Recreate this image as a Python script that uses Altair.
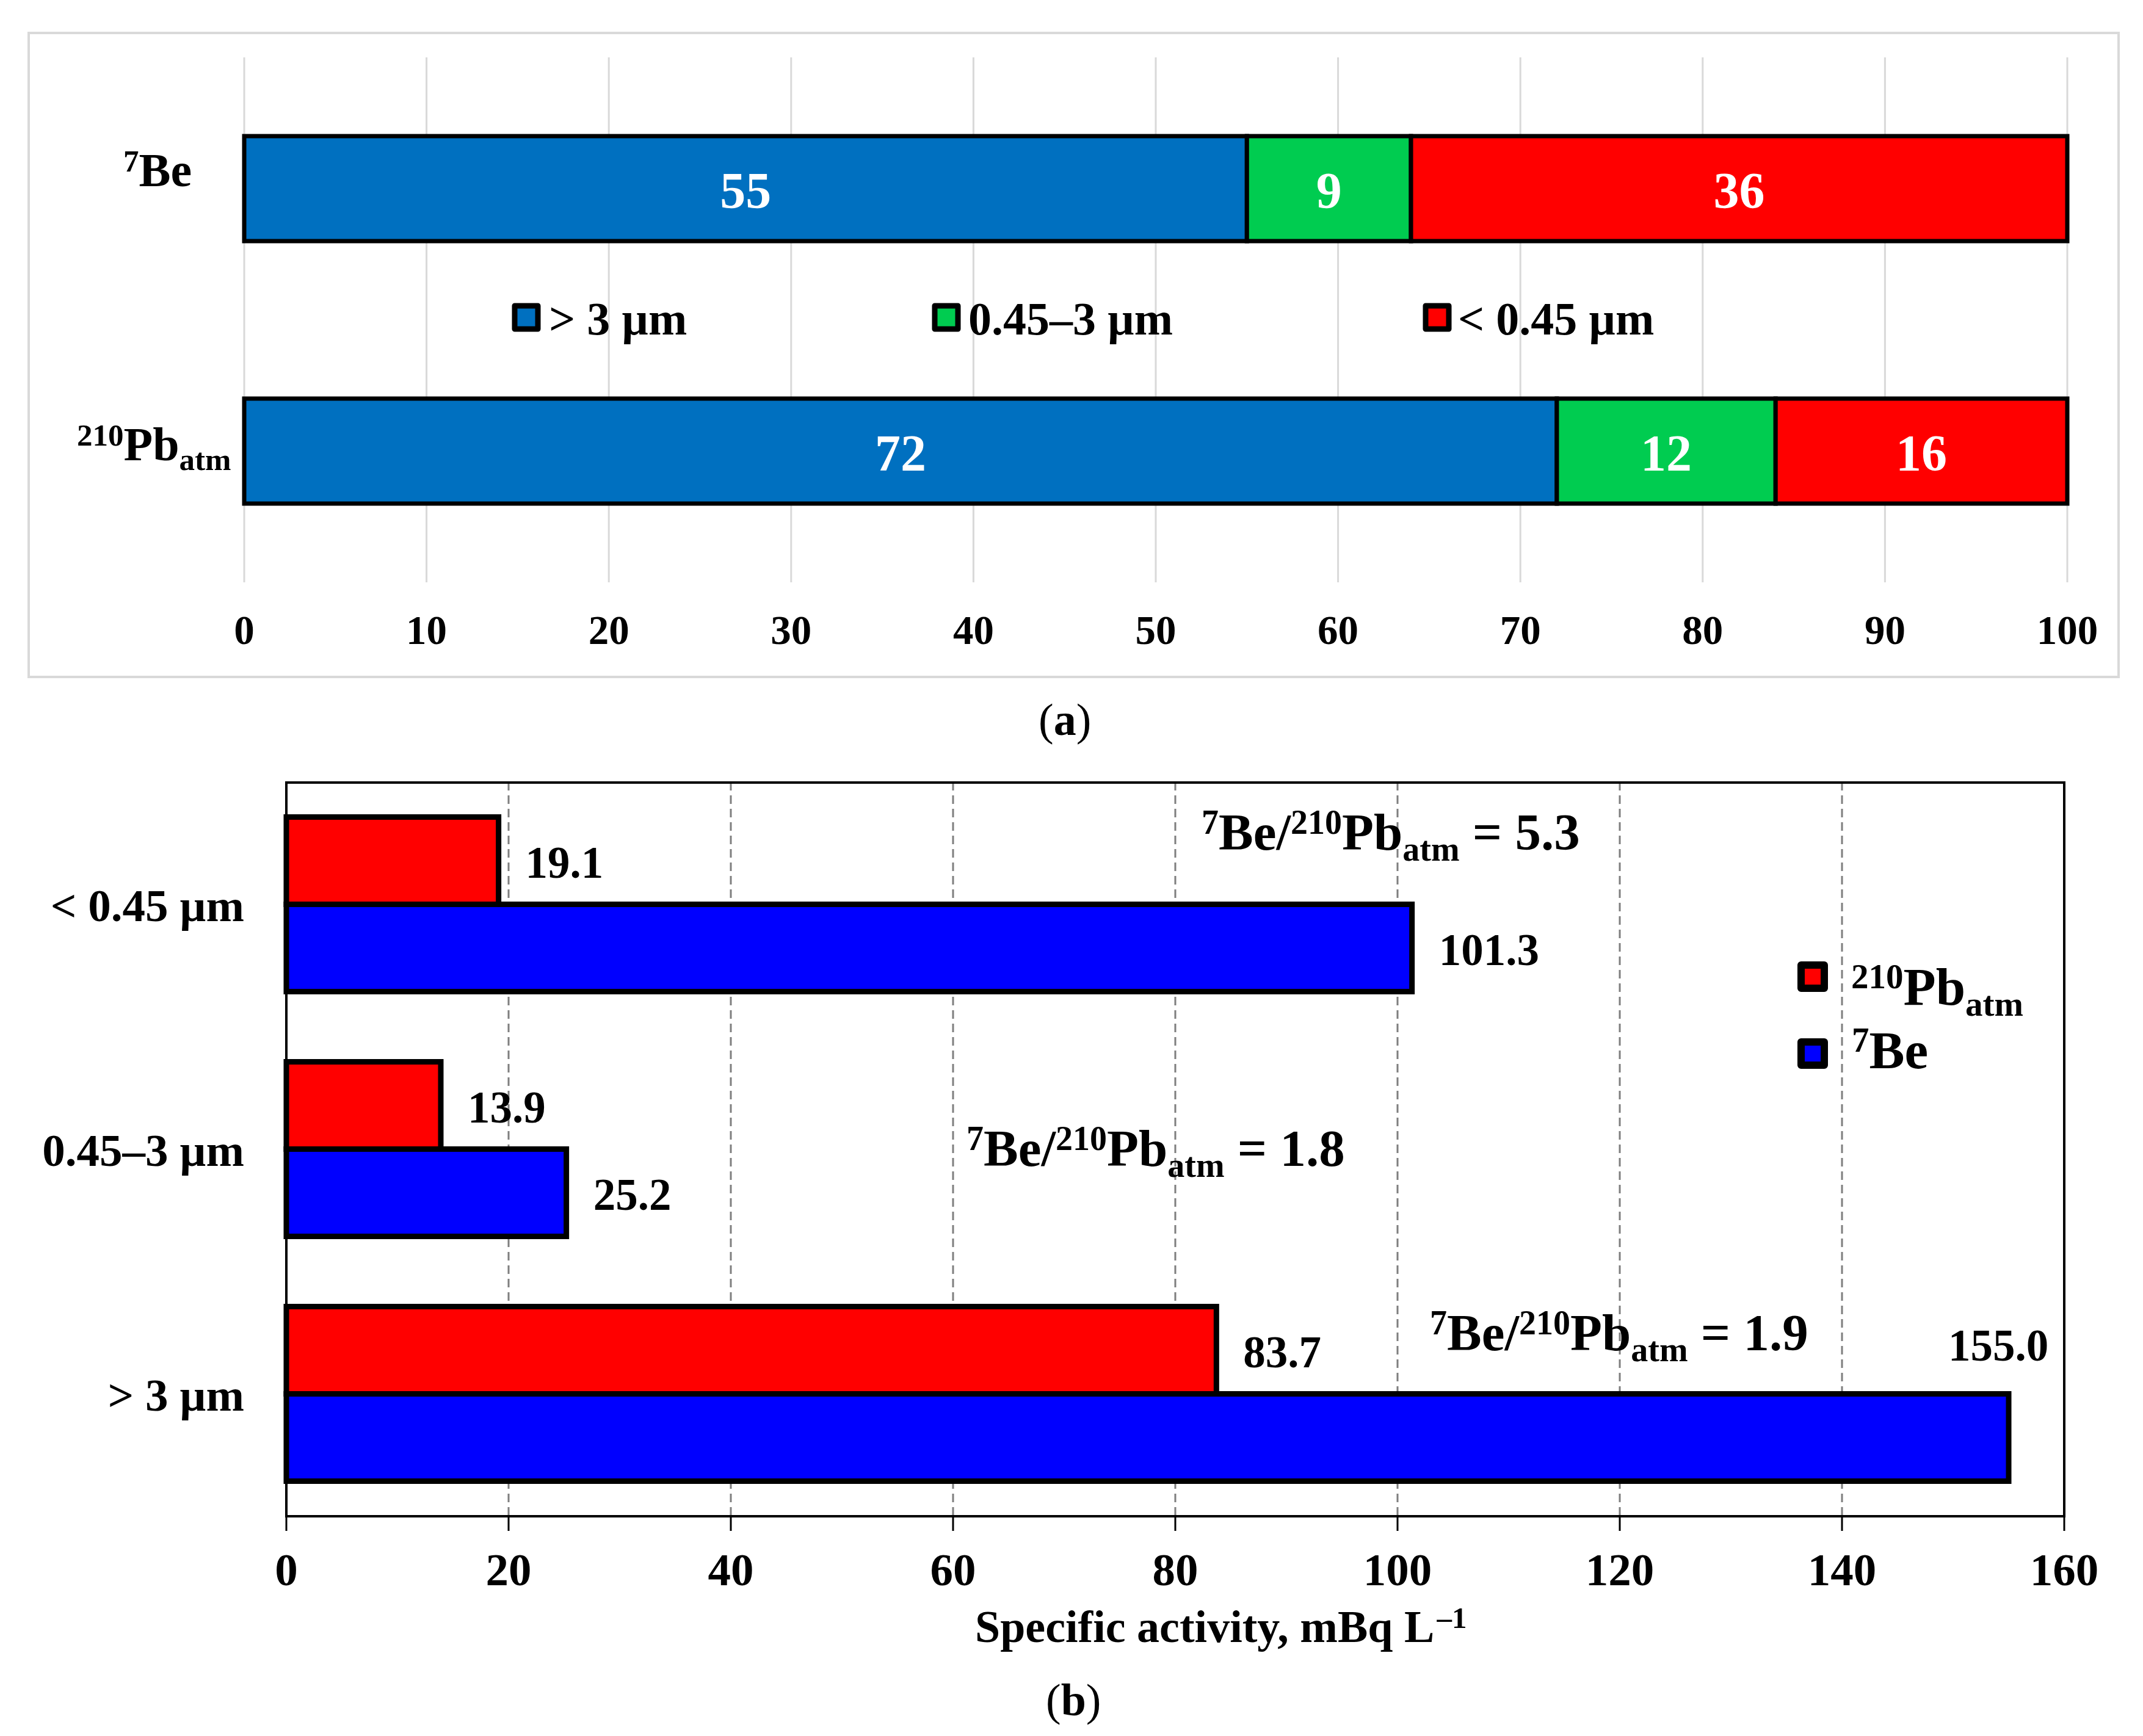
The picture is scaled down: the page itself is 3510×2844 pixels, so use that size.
import altair as alt
import pandas as pd

# ---- data ----
isotopes = ["7Be", "210Pb"]
fractions = ["> 3 µm", "0.45–3 µm", "< 0.45 µm"]
share_be7 = [55, 9, 36]
share_pb210 = [72, 12, 16]
fraction_colors = ["#0070C0", "#00CC50", "#FF0000"]

size_classes = ["< 0.45 µm", "0.45–3 µm", "> 3 µm"]
series = ["210Pb", "7Be"]
series_colors = ["#FF0000", "#0000FF"]
activity_pb210 = [19.1, 13.9, 83.7]
activity_be7 = [101.3, 25.2, 155.0]
ratios = ["5.3", "1.8", "1.9"]

ticks_a = list(range(0, 101, 10))
ticks_b = list(range(0, 161, 20))
grid_b = list(range(20, 141, 20))

FONT = "Liberation Serif"

# Times / Liberation Serif Bold advance widths (1/1000 em)
ADV = {" ": 250, "(": 333, ")": 333, ",": 250, ".": 250, "/": 278, "<": 570,
       "=": 570, ">": 570, "B": 667, "L": 667, "P": 611, "S": 556, "a": 500,
       "b": 556, "c": 444, "e": 444, "f": 333, "i": 278, "m": 833, "p": 556,
       "q": 556, "t": 333, "v": 500, "y": 500, "µ": 556, "–": 500}

one = pd.DataFrame({"k": [0]})


def text_width(s, size):
    return sum(ADV.get(c, 500) for c in s) * size / 1000


def rich(parts, x0, y0, size, color="black"):
    """Text with superscripts/subscripts, left edge x0, baseline y0."""
    small = round(size * 0.66)
    layers = []
    off = 0
    for txt, kind in parts:
        fs = small if kind in ("sup", "sub") else size
        shift = {"sup": -0.31 * size, "sub": 0.21 * size}.get(kind, 0)
        weight = "normal" if kind == "reg" else "bold"
        # svg drops leading blanks, so move the start instead
        lead = len(txt) - len(txt.lstrip(" "))
        off += text_width(" " * lead, fs)
        txt = txt.lstrip(" ")
        layers.append(
            alt.Chart(one)
            .mark_text(text=txt, align="left", baseline="alphabetic", font=FONT,
                       fontSize=fs, fontWeight=weight, color=color)
            .encode(x=alt.value(x0 + off), y=alt.value(y0 + shift))
        )
        off += text_width(txt, fs)
    return layers


# ---------------- panel (a) ----------------
rows = []
for iso, shares in zip(isotopes, [share_be7, share_pb210]):
    start = 0
    for frac, v in zip(fractions, shares):
        rows.append({"iso": iso, "frac": frac, "value": v,
                     "start": start, "end": start + v, "mid": start + v / 2})
        start += v
df_a = pd.DataFrame(rows)

xa = alt.Scale(domain=[0, 100], range=[355, 3341])
ya = alt.Scale(domain=isotopes, range=[41, 901], paddingInner=0.6, paddingOuter=0.3)

frame_a = (
    alt.Chart(one)
    .mark_rect(fillOpacity=0, stroke="#d9d9d9", strokeWidth=4)
    .encode(x=alt.value(2), x2=alt.value(3425), y=alt.value(1), y2=alt.value(1056))
)

grid_a = (
    alt.Chart(pd.DataFrame({"v": ticks_a}))
    .mark_rule(color="#d9d9d9", strokeWidth=3)
    .encode(x=alt.X("v:Q", scale=xa, axis=None), y=alt.value(41), y2=alt.value(901))
)

bars_a = (
    alt.Chart(df_a)
    .mark_bar(stroke="black", strokeWidth=7)
    .encode(
        x=alt.X("start:Q", scale=xa, axis=None),
        x2="end:Q",
        y=alt.Y("iso:N", scale=ya, axis=None),
        color=alt.Color("frac:N", scale=alt.Scale(domain=fractions, range=fraction_colors),
                        legend=None),
    )
)

values_a = (
    alt.Chart(df_a)
    .mark_text(font=FONT, fontWeight="bold", fontSize=84, color="white",
               baseline="alphabetic", dy=32)
    .encode(x=alt.X("mid:Q", scale=xa, axis=None), y=alt.Y("iso:N", scale=ya, axis=None),
            text=alt.Text("value:Q", format="d"))
)

ticklab_a = (
    alt.Chart(pd.DataFrame({"v": ticks_a}))
    .mark_text(font=FONT, fontWeight="bold", fontSize=67, baseline="alphabetic")
    .encode(x=alt.X("v:Q", scale=xa, axis=None), y=alt.value(1002),
            text=alt.Text("v:Q", format="d"))
)

layers_a = [frame_a, grid_a, bars_a, values_a, ticklab_a]

# legend (a)
for frac, col, sx, tx in zip(fractions, fraction_colors, [817, 1505, 2309], [854, 1541, 2343]):
    layers_a.append(
        alt.Chart(one)
        .mark_square(size=1444, fill=col, stroke="black", strokeWidth=9, opacity=1,
                     strokeJoin="round")
        .encode(x=alt.value(sx), y=alt.value(467))
    )
    layers_a.append(
        alt.Chart(one)
        .mark_text(text=frac, font=FONT, fontWeight="bold", fontSize=76,
                   align="left", baseline="alphabetic")
        .encode(x=alt.value(tx), y=alt.value(495))
    )

# y labels (a)
layers_a += rich([("7", "sup"), ("Be", "n")], 157, 252, 78)
layers_a += rich([("210", "sup"), ("Pb", "n"), ("atm", "sub")], 81, 701, 78)
layers_a += rich([("(", "reg"), ("a", "n"), (")", "reg")], 1656, 1151, 74)

panel_a = alt.layer(*layers_a).properties(width=3427, height=1226)

# ---------------- panel (b) ----------------
df_pb = pd.DataFrame({"cls": size_classes, "value": activity_pb210})
df_be = pd.DataFrame({"cls": size_classes, "value": activity_be7})

xb = alt.Scale(domain=[0, 160], range=[424, 3336])
yb = alt.Scale(domain=size_classes, range=[0, 1203], paddingInner=0.287, paddingOuter=0.1435)
BAR_H = 143

gridlines_b = (
    alt.Chart(pd.DataFrame({"v": grid_b}))
    .mark_rule(color="#7f7f7f", strokeWidth=3, strokeDash=[14, 8])
    .encode(x=alt.X("v:Q", scale=xb, axis=None), y=alt.value(0), y2=alt.value(1203))
)


def series_bars(df, color, shift):
    return (
        alt.Chart(df)
        .mark_bar(stroke="black", strokeWidth=9, color=color, height=BAR_H, yOffset=shift)
        .encode(x=alt.X("value:Q", scale=xb, axis=None),
                y=alt.Y("cls:N", scale=yb, axis=None))
    )


def series_labels(df, shift):
    return (
        alt.Chart(df)
        .transform_filter("datum.value < 150")
        .mark_text(font=FONT, fontWeight="bold", fontSize=73, align="left",
                   baseline="alphabetic", dx=44, dy=shift + 28)
        .encode(x=alt.X("value:Q", scale=xb, axis=None),
                y=alt.Y("cls:N", scale=yb, axis=None),
                text=alt.Text("value:Q", format=".1f"))
    )


bars_pb = series_bars(df_pb, series_colors[0], -BAR_H / 2)
bars_be = series_bars(df_be, series_colors[1], BAR_H / 2)

frame_b = (
    alt.Chart(one)
    .mark_rect(fillOpacity=0, stroke="black", strokeWidth=4)
    .encode(x=alt.value(424), x2=alt.value(3336), y=alt.value(1), y2=alt.value(1203))
)

value_top_b = (
    alt.Chart(df_be)
    .transform_filter("datum.value >= 150")
    .mark_text(font=FONT, fontWeight="bold", fontSize=73, align="center",
               baseline="alphabetic", dx=-17, dy=BAR_H / 2 - 126)
    .encode(x=alt.X("value:Q", scale=xb, axis=None),
            y=alt.Y("cls:N", scale=yb, axis=None),
            text=alt.Text("value:Q", format=".1f"))
)

ticks_rule_b = (
    alt.Chart(pd.DataFrame({"v": ticks_b}))
    .mark_rule(color="black", strokeWidth=3)
    .encode(x=alt.X("v:Q", scale=xb, axis=None), y=alt.value(1203), y2=alt.value(1227))
)

ticklab_b = (
    alt.Chart(pd.DataFrame({"v": ticks_b}))
    .mark_text(font=FONT, fontWeight="bold", fontSize=75, baseline="alphabetic")
    .encode(x=alt.X("v:Q", scale=xb, axis=None), y=alt.value(1316),
            text=alt.Text("v:Q", format="d"))
)

ylab_b = (
    alt.Chart(pd.DataFrame({"cls": size_classes}))
    .mark_text(font=FONT, fontWeight="bold", fontSize=75, align="right",
               baseline="alphabetic", dy=27)
    .encode(x=alt.value(355), y=alt.Y("cls:N", scale=yb, axis=None), text="cls:N")
)

layers_b = [gridlines_b, bars_pb, bars_be, frame_b,
            series_labels(df_pb, -BAR_H / 2), series_labels(df_be, BAR_H / 2),
            value_top_b, ticks_rule_b, ticklab_b, ylab_b]

# ratio annotations
for ratio, (rx, ry) in zip(ratios, [(1923, 111), (1538, 629), (2297, 931)]):
    layers_b += rich([("7", "sup"), ("Be/", "n"), ("210", "sup"), ("Pb", "n"),
                      ("atm", "sub"), (" = " + ratio, "n")], rx, ry, 85)

# legend (b)
for col, sy in zip(series_colors, [319, 445]):
    layers_b.append(
        alt.Chart(one)
        .mark_square(size=1444, fill=col, stroke="black", strokeWidth=12, opacity=1,
                     strokeJoin="round")
        .encode(x=alt.value(2924), y=alt.value(sy))
    )
layers_b += rich([("210", "sup"), ("Pb", "n"), ("atm", "sub")], 2987, 365, 87)
layers_b += rich([("7", "sup"), ("Be", "n")], 2988, 469, 87)

# axis title and panel tag
layers_b += rich([("Specific activity, mBq L", "n"), ("–1", "sup")], 1552, 1409, 74)
layers_b += rich([("(", "reg"), ("b", "n"), (")", "reg")], 1668, 1529, 74)

panel_b = alt.layer(*layers_b).properties(width=3427, height=1550)

chart = (
    alt.vconcat(panel_a, panel_b, spacing=0)
    .properties(
        background="white",
        padding={"left": 37, "top": 44, "right": 10, "bottom": 0},
    )
    .configure_view(strokeWidth=0)
)

chart.save("out.html", embed_options={"renderer": "svg", "actions": False})
